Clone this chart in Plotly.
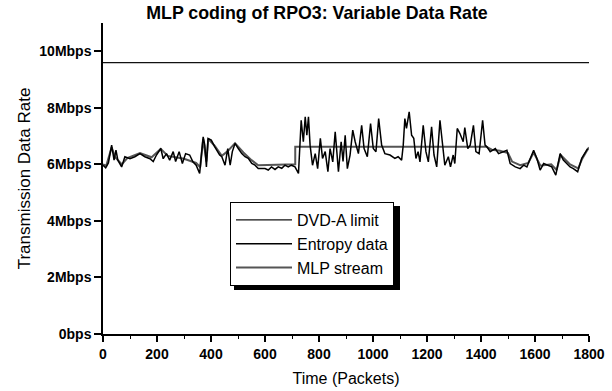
import plotly.graph_objects as go

# ---- data ----
limit_x = [0, 1800]
limit_y = [9.6, 9.6]

entropy_x = [0, 10, 20, 32, 41, 48, 55, 69, 81, 100, 118, 137, 155, 174, 186, 198, 214, 223, 235, 247,
             260, 269, 282, 294, 306, 321, 333, 345, 358, 364, 371, 377, 383, 389, 401, 414, 432, 440, 452, 462,
             471, 479, 489, 501, 514, 526, 538, 551, 563, 575, 600, 612, 624, 637, 649, 662, 674, 686, 698, 711,
             724, 734, 742, 749, 755, 761, 767, 776, 786, 795, 805, 813, 823, 833, 841, 851, 860, 866, 872, 882,
             889, 897, 905, 915, 925, 934, 946, 958, 967, 979, 991, 1001, 1011, 1021, 1032, 1044, 1063, 1081, 1093, 1106,
             1112, 1118, 1124, 1134, 1143, 1151, 1159, 1167, 1174, 1186, 1196, 1205, 1217, 1226, 1236, 1248, 1258, 1266, 1279, 1287,
             1297, 1303, 1312, 1322, 1334, 1340, 1351, 1360, 1372, 1381, 1393, 1406, 1415, 1422, 1434, 1453, 1465, 1484, 1496, 1508,
             1527, 1545, 1558, 1570, 1582, 1595, 1607, 1619, 1632, 1644, 1662, 1677, 1693, 1705, 1718, 1730, 1742, 1758, 1773, 1785,
             1795]
entropy_y = [5.97, 5.88, 6.05, 6.68, 6.15, 6.5, 6.15, 5.91, 6.27, 6.2, 6.27, 6.38, 6.27, 6.2, 6.1, 6.33, 6.56, 6.2, 6.38, 6.15,
             6.45, 6.1, 6.45, 6.03, 6.38, 6.33, 6.09, 5.97, 5.68, 6.38, 6.97, 6.68, 5.91, 6.92, 6.86, 6.62, 6.33, 6.27, 5.97, 6.56,
             5.97, 6.45, 6.74, 6.56, 6.38, 6.27, 6.21, 6.03, 5.97, 5.85, 5.85, 5.8, 5.91, 5.82, 5.91, 5.86, 5.97, 5.91, 5.97, 5.91,
             5.68, 7.56, 6.8, 7.68, 7.03, 7.68, 6.68, 5.97, 6.38, 5.85, 6.92, 6.21, 6.45, 5.74, 6.56, 6.09, 7.15, 6.45, 5.74, 6.8,
             6.1, 7.03, 5.85, 6.33, 7.21, 6.8, 6.38, 7.38, 6.56, 6.27, 7.44, 6.56, 6.45, 7.62, 6.68, 6.38, 6.33, 6.21, 6.27, 6.15,
             6.68, 7.62, 7.27, 7.86, 7.03, 6.92, 6.21, 6.45, 6.09, 7.38, 6.45, 6.09, 7.33, 6.33, 5.91, 7.56, 6.56, 5.97, 6.27, 5.91,
             6.33, 6.03, 7.27, 7.09, 6.8, 7.3, 6.56, 6.68, 7.38, 6.45, 6.38, 7.56, 6.68, 6.62, 6.45, 6.56, 6.38, 6.45, 6.5, 6.03,
             5.91, 5.85, 5.97, 5.91, 6.21, 6.5, 6.21, 5.8, 6.03, 5.97, 5.91, 5.62, 6.38, 6.15, 6.03, 5.91, 5.85, 5.74, 6.21, 6.38,
             6.56]

mlp_x = [0, 12, 32, 45, 70, 90, 137, 180, 214, 240, 300, 345, 360, 371, 383, 390, 414, 440, 460, 489,
         520, 550, 575, 620, 660, 700, 712, 712, 1420, 1440, 1470, 1500, 1515, 1545, 1575, 1595, 1620, 1660, 1680, 1695,
         1730, 1760, 1775, 1790, 1800]
mlp_y = [6.0, 5.95, 6.6, 6.25, 6.0, 6.22, 6.4, 6.25, 6.55, 6.3, 6.2, 6.05, 5.9, 6.9, 6.1, 6.9, 6.65, 6.3, 6.45, 6.75,
         6.42, 6.15, 5.97, 5.98, 6.0, 6.02, 6.0, 6.62, 6.62, 6.52, 6.48, 6.4, 6.1, 5.97, 6.05, 6.42, 5.95, 6.0, 5.8, 6.33,
         6.0, 5.86, 6.2, 6.45, 6.6]

x_ticks = [0, 200, 400, 600, 800, 1000, 1200, 1400, 1600, 1800]
y_ticks = [0, 2, 4, 6, 8, 10]
y_tick_labels = ["0bps", "2Mbps", "4Mbps", "6Mbps", "8Mbps", "10Mbps"]

FONT = "Liberation Sans, Arial, sans-serif"

fig = go.Figure()
fig.add_trace(go.Scatter(x=mlp_x, y=mlp_y, mode="lines", name="MLP stream",
                         line=dict(color="#555555", width=2), legendrank=3))
fig.add_trace(go.Scatter(x=limit_x, y=limit_y, mode="lines", name="DVD-A limit",
                         line=dict(color="#111111", width=1.4), legendrank=1))
fig.add_trace(go.Scatter(x=entropy_x, y=entropy_y, mode="lines", name="Entropy data",
                         line=dict(color="#000000", width=1.5), legendrank=2))

W, H = 612, 391
L, R, T, B = 103, 23, 23, 57
pw, ph = W - L - R, H - T - B

def px2x(px):
    return (px - L) / pw

def py2y(py):
    return (H - B - py) / ph

# legend box position in pixels (from reference)
lx0, ly0, lx1, ly1 = 230, 202, 396, 286

fig.add_shape(type="rect", xref="paper", yref="paper",
              x0=px2x(lx0 + 4), x1=px2x(lx1 + 4), y0=py2y(ly1 + 4), y1=py2y(ly0 + 4),
              fillcolor="black", line=dict(width=0), layer="above")

fig.update_layout(
    template="none",
    width=W, height=H,
    margin=dict(l=L, r=R, t=T, b=B),
    paper_bgcolor="white", plot_bgcolor="white",
    font=dict(family=FONT, color="black"),
    title=dict(text="MLP coding of RPO3: Variable Data Rate", x=317 / W, xanchor="center",
               y=1 - 13 / H, yanchor="middle",
               font=dict(size=17.8, weight="bold", family=FONT, color="black")),
    showlegend=True,
    legend=dict(x=px2x(lx0), y=py2y(ly0), xanchor="left", yanchor="top",
                bgcolor="white", bordercolor="black", borderwidth=1,
                font=dict(size=16, family=FONT, color="black"), itemwidth=56,
                traceorder="normal"),
    xaxis=dict(range=[0, 1800], tickvals=x_ticks, showgrid=False, zeroline=False,
               showline=True, linecolor="black", linewidth=1.5,
               ticks="outside", ticklen=6, tickwidth=1.5, tickcolor="black",
               minor=dict(dtick=100, ticks="outside", ticklen=3, tickwidth=1.2, tickcolor="black", showgrid=False),
               tickfont=dict(size=14, weight="bold", family=FONT, color="black"),
               title=dict(text="Time (Packets)", font=dict(size=16, family=FONT, color="black"), standoff=12)),
    yaxis=dict(range=[0, 11], tickvals=y_ticks, ticktext=y_tick_labels, showgrid=False, zeroline=False,
               showline=True, linecolor="black", linewidth=1.5,
               ticks="outside", ticklen=7, tickwidth=1.5, tickcolor="black",
               tickfont=dict(size=14, weight="bold", family=FONT, color="black"),
               title=dict(text="Transmission Data Rate", font=dict(size=17, family=FONT, color="black"), standoff=4)),
)

fig.write_html("out.html")
